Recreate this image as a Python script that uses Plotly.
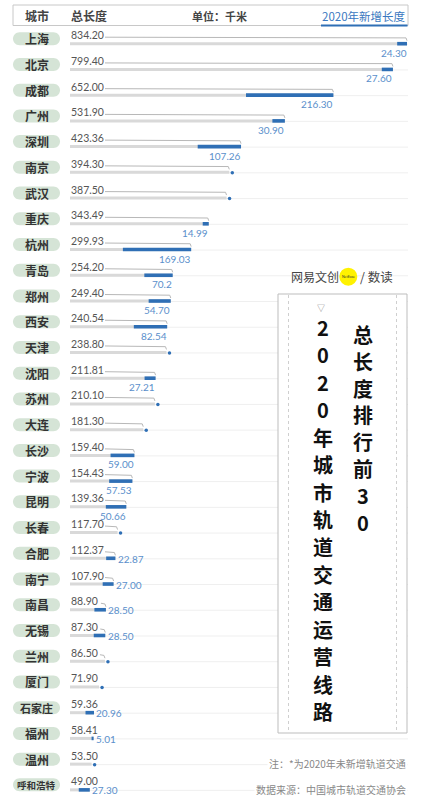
import plotly.graph_objects as go

# ---------------- data ----------------
cities = ["上海", "北京", "成都", "广州", "深圳", "南京", "武汉", "重庆", "杭州", "青岛",
          "郑州", "西安", "天津", "沈阳", "苏州", "大连", "长沙", "宁波", "昆明", "长春",
          "合肥", "南宁", "南昌", "无锡", "兰州", "厦门", "石家庄", "福州", "温州", "呼和浩特"]
total_km = [834.20, 799.40, 652.00, 531.90, 423.36, 394.30, 387.50, 343.49, 299.93, 254.20,
            249.40, 240.54, 238.80, 211.81, 210.10, 181.30, 159.40, 154.43, 139.36, 117.70,
            112.37, 107.90, 88.90, 87.30, 86.50, 71.90, 59.36, 58.41, 53.50, 49.00]
new_km = [24.30, 27.60, 216.30, 30.90, 107.26, 0, 0, 14.99, 169.03, 70.2,
          54.70, 82.54, 0, 27.21, 0, 0, 59.00, 57.53, 50.66, 0,
          22.87, 27.00, 28.50, 28.50, 0, 0, 20.96, 5.01, 0, 27.30]
total_labels = ["834.20", "799.40", "652.00", "531.90", "423.36", "394.30", "387.50", "343.49",
                "299.93", "254.20", "249.40", "240.54", "238.80", "211.81", "210.10", "181.30",
                "159.40", "154.43", "139.36", "117.70", "112.37", "107.90", "88.90", "87.30",
                "86.50", "71.90", "59.36", "58.41", "53.50", "49.00"]
new_labels = ["24.30", "27.60", "216.30", "30.90", "107.26", "", "", "14.99", "169.03", "70.2",
              "54.70", "82.54", "", "27.21", "", "", "59.00", "57.53", "50.66", "",
              "22.87", "27.00", "28.50", "28.50", "", "", "20.96", "5.01", "", "27.30"]
header_city = "城市"
header_total = "总长度"
header_unit = "单位：千米"
header_new = "2020年新增长度"
title_col1 = "2020年城市轨道交通运营线路"
title_col2 = "总长度排行前30"
note_text = "注：*为2020年未新增轨道交通"
source_text = "数据来源：中国城市轨道交通协会"

# ---------------- geometry helpers ----------------
W, H = 428, 808
PX_ZERO, PX_MAX = 70, 407
K = max(total_km) / (PX_MAX - PX_ZERO)      # km per pixel
ROW0, ROW_H = 38.7, 25.73


def X(px):
    return (px - PX_ZERO) * K


def Y(py):
    return (py - ROW0) / ROW_H


def dy(p):
    return p / ROW_H


def xpx(v):
    return PX_ZERO + v / K


BLUE = "#2f6fb5"
BLUE_TXT = "#5a8fcb"
GREY_BAR = "#d9d9d9"
PILL = "#d5e4d6"
CJK = "Noto Sans CJK SC"
NUM = "Lato"

rows = list(range(len(cities)))
BAR = dy(5)

fig = go.Figure()

# total bars
fig.add_trace(go.Bar(
    x=total_km, y=[i + BAR for i in rows], orientation="h", width=dy(3),
    marker=dict(color=GREY_BAR, line_width=0)))

# new-length bars (blue, at the end of the total bar)
idx_new = [i for i in rows if new_km[i] > 0]
fig.add_trace(go.Bar(
    x=[new_km[i] for i in idx_new], base=[total_km[i] - new_km[i] for i in idx_new],
    y=[i + BAR for i in idx_new], orientation="h", width=dy(3.6),
    marker=dict(color=BLUE, line_width=0)))

# callout lines with hook
hx, hy = [], []
for i in rows:
    end_px = xpx(total_km[i])
    if end_px < 102:
        continue
    start_px = min(105, end_px - 5)
    yl = i + dy(-1.5)
    hx += [X(start_px), X(end_px - 3), X(end_px - 1), X(end_px), None]
    hy += [yl, yl, yl + dy(0.7), yl + dy(3.5), None]
fig.add_trace(go.Scatter(x=hx, y=hy, mode="lines",
                         line=dict(color="#b8b8b8", width=1)))

# dots for cities without new length
idx_zero = [i for i in rows if new_km[i] == 0]
fig.add_trace(go.Scatter(
    x=[total_km[i] + 3 * K for i in idx_zero], y=[i + BAR + dy(0.5) for i in idx_zero],
    mode="markers", marker=dict(color=BLUE, size=3.5)))

shapes = []
annots = []


def ann(x, y, text, size, color, family=CJK, xanchor="center", bg=None, pad=1):
    d = dict(x=x, y=y, xref="x", yref="y", text=text, showarrow=False,
             xanchor=xanchor, yanchor="middle", borderpad=pad,
             font=dict(size=size, color=color, family=family))
    if bg:
        d["bgcolor"] = bg
    annots.append(d)


# faint row lines
for i in rows:
    shapes.append(dict(type="line", xref="x", yref="y", x0=0, x1=X(408),
                       y0=i + BAR + dy(0.5), y1=i + BAR + dy(0.5),
                       line=dict(color="#efefef", width=1), layer="below"))

# header box
shapes.append(dict(type="rect", xref="x", yref="y", x0=X(13), x1=X(408),
                   y0=Y(5), y1=Y(25.5), line=dict(color="#c8c8c8", width=1),
                   fillcolor="white", layer="below"))
shapes.append(dict(type="line", xref="x", yref="y", x0=X(321), x1=X(407.5),
                   y0=Y(25.5), y1=Y(25.5), line=dict(color=BLUE, width=2.2)))
ann(X(37), Y(15.5), "<b>" + header_city + "</b>", 12, "#444")
ann(X(69), Y(15.5), "<b>" + header_total + "</b>", 12, "#444", xanchor="left")
ann(X(219), Y(15.5), "<b>" + header_unit + "</b>", 11, "#444")
ann(X(408), Y(15.5), header_new, 11.5, "#3a78c0", xanchor="right")

# city pills
KAP = 0.5523
rx, ry = 6.5 * K, dy(6.5)
for i in rows:
    x0, x1 = X(13), X(60)
    yc = i
    p = (f"M{x0+rx},{yc-ry} L{x1-rx},{yc-ry} "
         f"C{x1-rx+KAP*rx},{yc-ry} {x1},{yc-KAP*ry} {x1},{yc} "
         f"C{x1},{yc+KAP*ry} {x1-rx+KAP*rx},{yc+ry} {x1-rx},{yc+ry} "
         f"L{x0+rx},{yc+ry} "
         f"C{x0+rx-KAP*rx},{yc+ry} {x0},{yc+KAP*ry} {x0},{yc} "
         f"C{x0},{yc-KAP*ry} {x0+rx-KAP*rx},{yc-ry} {x0+rx},{yc-ry} Z")
    shapes.append(dict(type="path", xref="x", yref="y", path=p, fillcolor=PILL,
                       line=dict(width=0), layer="below"))
    name = cities[i]
    size = 12 if len(name) <= 2 else (11 if len(name) == 3 else 9.5)
    ann(X(36.5), yc, "<b>" + name + "</b>", size, "#333", pad=0)

# total labels
for i in rows:
    ann(0, i + dy(-3.5), total_labels[i], 10.5, "#555", family=NUM, xanchor="left", pad=0)

# new labels
for i in idx_new:
    if total_km[i] < 115:
        ann(total_km[i] + 1.5 * K, i + dy(5.5), new_labels[i], 10, BLUE_TXT,
            family=NUM, xanchor="left", pad=0)
    else:
        ann(total_km[i] + 0.5 * K, i + dy(14), new_labels[i], 10, BLUE_TXT,
            family=NUM, xanchor="right", pad=0)

# right panel
shapes.append(dict(type="rect", xref="x", yref="y", x0=X(278), x1=X(407),
                   y0=Y(294), y1=Y(733), line=dict(color="#bdbdbd", width=1),
                   fillcolor="white", layer="above"))
for px in (288.5, 396.5):
    shapes.append(dict(type="line", xref="x", yref="y", x0=X(px), x1=X(px),
                       y0=Y(295), y1=Y(732), line=dict(color="#cfcfcf", width=1, dash="dot"),
                       layer="above"))
ann(X(320.7), Y(307.5), "▽", 8, "#888", pad=0)
for j, ch in enumerate(title_col1):
    ann(X(323), Y(327.3 + 27.46 * j), "<b>" + ch + "</b>", 20, "#111", pad=0)
for j, ch in enumerate(title_col2):
    ann(X(363.3), Y(334.2 + 26.9 * j), "<b>" + ch + "</b>", 20, "#111", pad=0)

# logo
shapes.append(dict(type="circle", xref="x", yref="y", x0=X(339.3), x1=X(357.3),
                   y0=Y(267.7), y1=Y(285.7), fillcolor="#fff200", line=dict(width=0),
                   layer="above"))
ann(X(290), Y(276.7), "网易文创", 12, "#444", xanchor="left", pad=0)
ann(X(348.3), Y(276.7), "NetEase", 3.5, "#333", family=NUM, pad=0)
ann(X(359), Y(276.7), "/ 数读", 12.5, "#444", xanchor="left", pad=0)

# notes
ann(X(408), Y(763.5), note_text, 10, "#888", xanchor="right", bg="white")
ann(X(408), Y(789.5), source_text, 10, "#888", xanchor="right", bg="white")

fig.update_layout(
    width=W, height=H, margin=dict(l=0, r=0, t=0, b=0),
    paper_bgcolor="white", plot_bgcolor="white", showlegend=False,
    barmode="overlay", hovermode=False,
    xaxis=dict(range=[X(0), X(W)], visible=False, fixedrange=True),
    yaxis=dict(range=[Y(H), Y(0)], visible=False, fixedrange=True),
    shapes=shapes, annotations=annots)

fig.write_html("out.html", config={"displayModeBar": False},
               post_script="document.body.style.margin='0';document.body.style.overflow='hidden';")
